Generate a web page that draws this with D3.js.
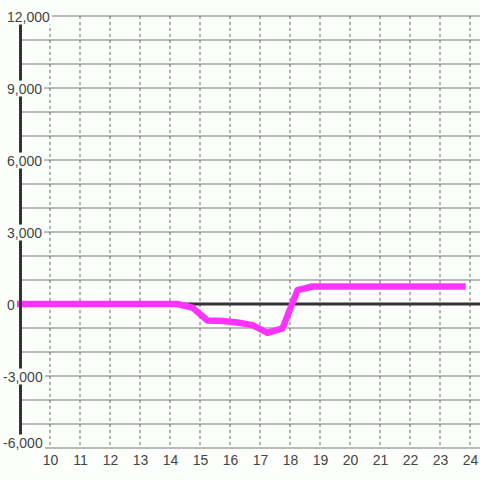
<!DOCTYPE html>
<html>
<head>
<meta charset="utf-8">
<script src="https://cdn.jsdelivr.net/npm/d3@7"></script>
<style>
  html, body { margin: 0; padding: 0; background: #fdfffd; }
  svg { display: block; }
  text { font-family: "Liberation Sans", Arial, sans-serif; font-size: 14px; fill: #444; }
</style>
</head>
<body>
<svg id="chart" width="480" height="480"></svg>
<script>
// Data
const hours  = [9, 14.25, 14.75, 15.25, 15.75, 16.25, 16.75, 17.25, 17.75, 18.25, 18.75, 23.75];
const values = [0, 0, -150, -690, -710, -770, -880, -1200, -1020, 580, 730, 730];
const xTicks = [10, 11, 12, 13, 14, 15, 16, 17, 18, 19, 20, 21, 22, 23, 24];
const yGrid  = [-6000, -5000, -4000, -3000, -2000, -1000, 0, 1000, 2000, 3000, 4000, 5000, 6000, 7000, 8000, 9000, 10000, 11000, 12000];
const yLabels = [-6000, -3000, 0, 3000, 6000, 9000, 12000];

const svg = d3.select("#chart");
svg.append("rect").attr("width", 480).attr("height", 480).attr("fill", "#fdfffd");

const x = d3.scaleLinear().domain([10, 24]).range([50, 470]);
const y = d3.scaleLinear().domain([-6000, 12000]).range([448, 16]);

// horizontal grid
svg.append("g").selectAll("line").data(yGrid).join("line")
  .attr("x1", 20).attr("x2", 480)
  .attr("y1", d => y(d)).attr("y2", d => y(d))
  .attr("stroke", "#777").attr("stroke-width", 1.2);

// vertical dashed grid
svg.append("g").selectAll("line").data(xTicks).join("line")
  .attr("x1", d => x(d)).attr("x2", d => x(d))
  .attr("y1", y(12000)).attr("y2", y(-6000))
  .attr("stroke", "#666").attr("stroke-width", 1)
  .attr("stroke-dasharray", "3,3");

// zero line
svg.append("line")
  .attr("x1", 20).attr("x2", 480)
  .attr("y1", y(0)).attr("y2", y(0))
  .attr("stroke", "#333").attr("stroke-width", 3);

// data line
const line = d3.line().x((d, i) => x(hours[i])).y(d => d);
svg.append("path")
  .datum(values.map(v => y(v)))
  .attr("d", line)
  .attr("fill", "none")
  .attr("stroke", "#ff33ff")
  .attr("stroke-width", 6.5)
  .attr("stroke-linejoin", "round")
  .attr("stroke-linecap", "square");

// left axis bar
svg.append("line")
  .attr("x1", 20.5).attr("x2", 20.5)
  .attr("y1", y(12000)).attr("y2", y(-6000))
  .attr("stroke", "#333").attr("stroke-width", 3);

// y labels with background boxes
const fmt = d => d3.format(",")(d).replace("\u2212", "-");
const yAxis = d3.axisLeft(y).tickValues(yLabels).tickFormat(fmt).tickSize(0);
const gy = svg.append("g").call(yAxis);
gy.select(".domain").remove();
gy.selectAll(".tick text")
  .attr("text-anchor", "start")
  .attr("font-family", null).attr("font-size", null).attr("fill", null)
  .attr("x", d => d < 0 ? 3 : 7)
  .attr("dy", d => d === -6000 ? "-0.05em" : "0.36em");
gy.selectAll(".tick").each(function(d) {
  const t = d3.select(this).select("text");
  const bb = t.node().getBBox();
  const cy = d === -6000 ? -6 : 0;
  d3.select(this).insert("rect", "text")
    .attr("x", bb.x - 2).attr("width", bb.width + 4)
    .attr("y", cy - 8).attr("height", 16)
    .attr("fill", "#fdfffd");
});

// x labels
const xAxis = d3.axisBottom(x).tickValues(xTicks).tickFormat(d3.format("d")).tickSize(0);
const gx = svg.append("g").attr("transform", `translate(0,${y(-6000)})`).call(xAxis);
gx.select(".domain").remove();
gx.selectAll(".tick text")
  .attr("font-family", null).attr("font-size", null).attr("fill", null)
  .attr("y", 7);
</script>
</body>
</html>
